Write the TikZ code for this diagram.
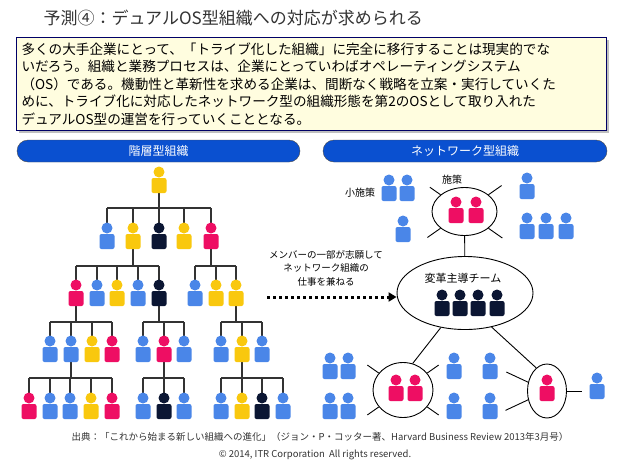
\documentclass[tikz,border=0pt]{standalone}
\usepackage{fontspec}
\setmainfont{Noto Sans CJK JP}
\usetikzlibrary{shapes.geometric,arrows.meta,shadows}
\definecolor{cblue}{HTML}{4A86E8}
\definecolor{cyel}{HTML}{F9C80E}
\definecolor{cpink}{HTML}{EE0E63}
\definecolor{cnavy}{HTML}{0B1633}
\definecolor{hdr}{HTML}{0A50D0}
\definecolor{boxy}{HTML}{FFFDDF}
\newcommand{\person}[3]{%
  \fill[#3] (#1,#2) circle (5.5);
  \fill[#3,rounded corners=2] (#1-7.5,#2+6) rectangle (#1+7.5,#2+21);}
% parent x, parent y, bar y, left x, right x, child list, child y
\newcommand{\branch}[7]{%
  \draw[tree] (#1,#2+21) -- (#1,#3);
  \draw[tree] (#4,#3) -- (#5,#3);
  \foreach \cx in {#6} \draw[tree] (\cx,#3) -- (\cx,#7-5.5);}
\tikzset{
  tree/.style={line width=1.3pt, black!80},
  header/.style={fill=hdr, draw=black!70, rounded corners=11pt, minimum height=22pt,
    text=white, font=\fontsize{12}{12}\selectfont},
  team/.style={ellipse, draw, line width=0.9pt, fill=white},
  spoke/.style={line width=0.9pt},
  small/.style={font=\fontsize{10}{12}\selectfont}
}
\begin{document}
\begin{tikzpicture}[x=1pt,y=-1pt]
\useasboundingbox[fill=white] (0,0) rectangle (640,467);
% title and box
\node[anchor=west, text=black!80, font=\fontsize{17}{17}\selectfont] (title) at (40,18) {予測④：デュアルOS型組織への対応が求められる};
\node[anchor=north west, draw=black!60!blue, line width=1pt, fill=boxy, drop shadow,
  minimum height=93pt, inner sep=5pt, text width=580pt, align=left,
  font=\fontsize{13.6}{17.5}\selectfont] (intro) at (16,37)
  {多くの大手企業にとって、「トライブ化した組織」に完全に移行することは現実的でな\\
   いだろう。組織と業務プロセスは、企業にとっていわばオペレーティングシステム\\
   （OS）である。機動性と革新性を求める企業は、間断なく戦略を立案・実行していくた\\
   めに、トライブ化に対応したネットワーク型の組織形態を第2のOSとして取り入れた\\
   デュアルOS型の運営を行っていくこととなる。};
% headers
\node[header, minimum width=283pt] (hleft) at (158.5,151) {階層型組織};
\node[header, minimum width=284pt] (hright) at (465,151) {ネットワーク型組織};
% hierarchy
\branch{159}{172}{208}{107}{211}{107,133,159,184,211}{228}
\branch{133}{228}{266}{76}{159}{76,97,117,138,159}{285}
\branch{211}{228}{266}{195}{236}{195,216,236}{285}
\branch{76}{285}{322}{50}{112}{50,71,92,112}{341}
\branch{159}{285}{322}{143}{184}{143,164,184}{341}
\branch{236}{285}{322}{221}{262}{221,242,262}{341}
\branch{71}{341}{378}{29}{112}{29,50,70,91,112}{398}
\branch{164}{341}{378}{143}{184}{143,164,184}{398}
\branch{242}{341}{378}{221}{283}{221,242,262,283}{398}
\person{159}{172}{cyel}
\foreach \x/\c in {107/cblue,133/cyel,159/cnavy,184/cyel,211/cpink} \person{\x}{228}{\c};
\foreach \x/\c in {76/cpink,97/cblue,117/cyel,138/cblue,159/cnavy,195/cblue,216/cyel,236/cyel} \person{\x}{285}{\c};
\foreach \x/\c in {50/cblue,71/cblue,92/cyel,112/cpink,143/cblue,164/cpink,184/cblue,221/cblue,242/cyel,262/cblue} \person{\x}{341}{\c};
\foreach \x/\c in {29/cpink,50/cblue,70/cblue,91/cyel,112/cpink,143/cblue,164/cnavy,184/cblue,221/cblue,242/cyel,262/cnavy,283/cblue} \person{\x}{398}{\c};
% network
\node[team, minimum width=65pt, minimum height=48pt] (top) at (464.5,211.5) {};
\node[team, minimum width=136pt, minimum height=73pt] (core) at (465,293) {};
\node[team, minimum width=60pt, minimum height=55pt] (left) at (403,390) {};
\node[team, minimum width=39pt, minimum height=54pt] (right) at (547,391) {};
\draw[spoke] (top) -- (core);
\draw[spoke] (core.235) -- (left.70);
\draw[spoke] (core.-52) -- (right.115);
\foreach \a/\l in {145/13, 215/16, 35/16, -35/17} \draw[spoke] (top.\a) -- ++(-\a:\l);
\foreach \a/\l in {145/14, 215/14, 35/14, -35/14} \draw[spoke] (left.\a) -- ++(-\a:\l);
\foreach \a/\l in {155/24, 205/25, 0/15} \draw[spoke] (right.\a) -- ++(-\a:\l);
\node[small] (shisaku) at (452,180) {施策};
\node[small] (sho) at (360,193) {小施策};
\node[font=\fontsize{11}{12}\selectfont] (corelbl) at (463,278) {変革主導チーム};
\person{456}{202}{cpink} \person{476}{202}{cpink}
\foreach \x in {442,460,478,497} \person{\x}{295}{cnavy};
\person{396}{380}{cpink} \person{415}{380}{cpink}
\person{547}{380}{cpink}
\foreach \x/\y in {389/180,407/180,403/221,527/178,527/218,546/218,566/218,
  330/358,348/358,330/398,348/398,454/358,454/398,490/358,490/398,597/378}
  \person{\x}{\y}{cblue};
% transition
\node[small, align=center, font=\fontsize{9.5}{13.5}\selectfont] (move) at (326,268)
  {メンバーの一部が志願して\\ネットワーク組織の\\仕事を兼ねる};
\coordinate (mstart) at (267,297);
\draw[line width=3pt, dash pattern=on 3pt off 3pt, -{Triangle[length=8pt,width=9pt]}] (mstart) -- (core.west |- mstart);
% footer
\node[font=\fontsize{9.5}{10}\selectfont, text=black!80] (src) at (320,437)
  {出典：「これから始まる新しい組織への進化」（ジョン・P・コッター著、Harvard Business Review 2013年3月号）};
\node[font=\fontsize{9.5}{10}\selectfont, text=black!80] (copy) at (315,455)
  {© 2014, ITR Corporation\ \ All rights reserved.};
\end{tikzpicture}
\end{document}
